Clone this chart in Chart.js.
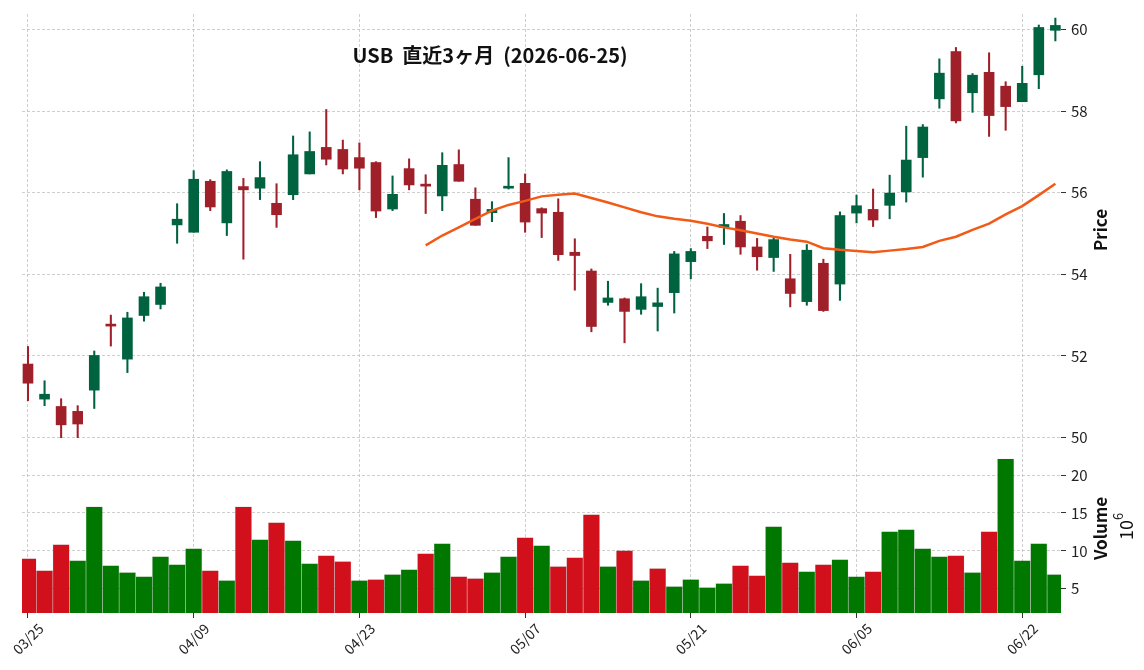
<!DOCTYPE html>
<html>
<head>
<meta charset="utf-8">
<script src="https://cdn.jsdelivr.net/npm/chart.js"></script>
<style>
  html, body { margin: 0; padding: 0; background: #fff; }
  #wrap { position: relative; width: 1144px; height: 670px; }
</style>
</head>
<body>
<div id="wrap"><canvas id="chart" width="1144" height="670"></canvas></div>
<script>
const dates = ['03/25','03/26','03/27','03/30','03/31','04/01','04/02','04/06','04/07','04/08',
  '04/09','04/10','04/13','04/14','04/15','04/16','04/17','04/20','04/21','04/22',
  '04/23','04/24','04/27','04/28','04/29','04/30','05/01','05/04','05/05','05/06',
  '05/07','05/08','05/11','05/12','05/13','05/14','05/15','05/18','05/19','05/20',
  '05/21','05/22','05/26','05/27','05/28','05/29','06/01','06/02','06/03','06/04',
  '06/05','06/08','06/09','06/10','06/11','06/12','06/15','06/16','06/17','06/18',
  '06/22','06/23','06/24'];

const opens = [51.80,50.94,50.76,50.64,51.16,52.75,51.92,52.99,53.26,55.21,
  55.03,56.28,55.26,56.15,56.11,55.74,55.95,56.46,57.11,57.06,
  56.86,56.74,55.60,56.59,56.21,55.92,56.69,55.84,55.51,56.11,
  56.23,55.61,55.52,54.54,54.08,53.31,53.40,53.14,53.21,53.55,
  54.31,54.93,55.15,55.30,54.67,54.41,53.89,53.33,54.27,53.76,
  55.50,55.59,55.69,56.02,56.86,58.30,59.46,58.45,58.95,58.61,
  58.23,58.89,59.98];
const highs = [52.23,51.39,50.95,50.78,52.12,53.00,53.07,53.56,53.78,55.73,
  56.54,56.32,56.56,56.35,56.76,56.22,57.39,57.49,58.04,57.29,
  57.22,56.76,56.41,56.83,56.44,56.98,57.05,56.12,55.78,56.86,
  56.46,55.63,55.85,54.87,54.13,53.83,53.42,53.77,53.66,54.56,
  54.63,55.16,55.49,55.44,54.88,54.89,54.49,54.73,54.37,55.53,
  55.94,56.09,56.43,57.63,57.67,59.28,59.56,58.92,59.43,58.72,
  59.10,60.11,60.28];
const lows = [50.90,50.78,49.98,49.98,50.71,52.24,51.59,52.85,53.15,54.76,
  55.03,55.56,54.95,54.37,55.83,55.15,55.83,56.46,56.68,56.46,
  56.07,55.39,55.56,56.07,55.49,55.56,56.28,55.20,55.29,56.09,
  55.03,54.90,54.34,53.61,52.59,53.24,52.32,53.02,52.61,53.05,
  53.89,54.63,54.73,54.49,54.10,54.07,53.20,53.24,53.09,53.36,
  55.26,55.17,55.36,55.77,56.38,58.07,57.71,57.97,57.38,57.53,
  58.23,58.55,59.72];
const closes = [51.33,51.06,50.31,50.33,52.01,52.73,52.93,53.45,53.69,55.35,
  56.33,55.65,56.52,56.07,56.37,55.46,56.93,57.01,56.82,56.58,
  56.60,55.55,55.96,56.19,56.16,56.67,56.28,55.20,55.59,56.15,
  55.28,55.50,54.48,54.46,52.72,53.42,53.09,53.45,53.30,54.50,
  54.56,54.82,55.22,54.67,54.43,54.85,53.53,54.59,53.11,55.44,
  55.68,55.33,55.99,56.80,57.61,58.93,57.76,58.88,57.89,58.11,
  58.68,60.05,60.10];
// volume in millions
const volumes = [8.99,7.41,10.83,8.73,15.83,8.07,7.15,6.62,9.25,8.20,
  10.31,7.41,6.10,15.83,11.49,13.73,11.36,8.33,9.39,8.60,
  6.10,6.23,6.89,7.54,9.65,10.96,6.62,6.36,7.15,9.25,
  11.75,10.70,7.94,9.12,14.78,7.94,10.04,6.10,7.68,5.31,
  6.23,5.18,5.70,8.07,6.75,13.20,8.46,7.28,8.20,8.86,
  6.62,7.28,12.54,12.81,10.31,9.25,9.39,7.15,12.54,22.15,
  8.73,10.96,6.89];
// 25-day moving average (starts at the 25th bar)
const ma25 = Array(24).fill(null).concat([
  54.71,54.95,55.15,55.36,55.56,55.70,55.80,55.91,
  55.95,55.98,55.87,55.76,55.64,55.52,55.42,55.36,55.31,55.24,55.15,55.08,55.00,54.92,54.85,54.80,
  54.64,54.60,54.57,54.54,54.58,54.62,54.67,54.82,54.92,55.09,55.24,55.47,55.67,55.94,56.22]);

const xTicks = [0, 10, 20, 30, 40, 50, 60];
const priceTicks = [50, 52, 54, 56, 58, 60];
const volumeTicks = [5, 10, 15, 20];
const titleText = 'USB  直近3ヶ月  (2026-06-25)';

const FONT = '"Noto Sans CJK JP", "Noto Sans", sans-serif';
const UP = '#006340', DOWN = '#a0202a';
const VOL_UP = '#007800', VOL_DOWN = '#d2101c';
const GRID = '#c2c2c2';

const idx = dates.map((d, i) => i);
const candleColors = idx.map(i => closes[i] >= opens[i] ? UP : DOWN);
const volColors = idx.map(i => {
  const prev = i === 0 ? opens[0] : closes[i - 1];
  return closes[i] >= prev ? VOL_UP : VOL_DOWN;
});

const gridOpts = {
  color: GRID, lineWidth: 0.8, drawTicks: true, tickLength: 5,
  tickColor: '#333', tickWidth: 1, tickBorderDash: [], offset: false
};
const borderOpts = { display: false, dash: [3, 2] };
const tickFont = { family: FONT, size: 15 };

const labelsPlugin = {
  id: 'labelsPlugin',
  afterDraw(chart) {
    const ctx = chart.ctx;
    const area = chart.chartArea;
    const yp = chart.scales.yPrice, yv = chart.scales.yVol;
    ctx.save();
    ctx.fillStyle = '#111';
    ctx.textAlign = 'center';
    ctx.textBaseline = 'middle';
    ctx.font = 'bold 20px ' + FONT;
    ctx.fillText(titleText, 490, 55);

    // Price
    ctx.save();
    ctx.translate(area.right + 40, (yp.top + yp.bottom) / 2 + 4);
    ctx.rotate(-Math.PI / 2);
    ctx.font = 'bold 17px ' + FONT;
    ctx.fillText('Price', 0, 0);
    ctx.restore();

    // Volume
    ctx.save();
    ctx.translate(area.right + 40, (yv.top + yv.bottom) / 2 + 3);
    ctx.rotate(-Math.PI / 2);
    ctx.font = 'bold 17px ' + FONT;
    ctx.fillText('Volume', 0, 0);
    ctx.restore();

    // 10^6
    ctx.save();
    ctx.translate(area.right + 62, (yv.top + yv.bottom) / 2 + 1);
    ctx.rotate(-Math.PI / 2);
    ctx.font = '18px ' + FONT;
    const w10 = ctx.measureText('10').width;
    ctx.font = '13px ' + FONT;
    const w6 = ctx.measureText('6').width;
    const start = -(w10 + w6) / 2;
    ctx.textAlign = 'left';
    ctx.font = '18px ' + FONT;
    ctx.fillText('10', start, 3);
    ctx.font = '13px ' + FONT;
    ctx.fillText('6', start + w10, -5);
    ctx.restore();

    ctx.restore();
  }
};

new Chart(document.getElementById('chart'), {
  type: 'bar',
  data: {
    datasets: [
      {
        type: 'line', label: 'MA25', order: 0,
        data: idx.map(i => ({ x: i, y: ma25[i] })),
        xAxisID: 'x', yAxisID: 'yPrice',
        borderColor: '#f25a17', borderWidth: 2.5, pointRadius: 0, tension: 0
      },
      {
        label: 'body', order: 1,
        data: idx.map(i => ({ x: i, y: [opens[i], closes[i]] })),
        xAxisID: 'x', yAxisID: 'yPrice',
        backgroundColor: candleColors, barThickness: 10, minBarLength: 2, grouped: false
      },
      {
        label: 'wick', order: 2,
        data: idx.map(i => ({ x: i, y: [lows[i], highs[i]] })),
        xAxisID: 'x', yAxisID: 'yPrice',
        backgroundColor: candleColors, barThickness: 1.4, grouped: false
      },
      {
        label: 'volume', order: 3,
        data: idx.map(i => ({ x: i, y: volumes[i] })),
        xAxisID: 'x', yAxisID: 'yVol',
        backgroundColor: volColors, borderColor: 'rgba(0,0,0,0.12)', borderWidth: 0.6,
        barPercentage: 1, categoryPercentage: 1, grouped: false
      }
    ]
  },
  options: {
    responsive: false,
    animation: false,
    devicePixelRatio: 1,
    layout: { padding: { left: 22, top: 8, right: 0, bottom: 0 } },
    plugins: { legend: { display: false }, tooltip: { enabled: false }, title: { display: false } },
    scales: {
      x: {
        type: 'linear', position: 'bottom', min: -0.36, max: 62.34, offset: false,
        afterBuildTicks: s => { s.ticks = xTicks.map(v => ({ value: v })); },
        afterFit: s => { s.height = 57; },
        ticks: {
          callback: v => dates[v], minRotation: 45, maxRotation: 45, autoSkip: false,
          labelOffset: 13, padding: 2, color: '#222', font: { family: FONT, size: 14 }
        },
        grid: gridOpts, border: borderOpts
      },
      yPrice: {
        type: 'linear', position: 'right', stack: 'panels', stackWeight: 426,
        min: 49.99, max: 60.38, beginAtZero: false,
        afterBuildTicks: s => { s.ticks = priceTicks.map(v => ({ value: v })); },
        afterFit: s => { s.width = 83; },
        ticks: { callback: v => String(v), padding: 5, color: '#222', font: tickFont },
        grid: gridOpts, border: borderOpts
      },
      yVol: {
        type: 'linear', position: 'right', stack: 'panels', stackWeight: 176,
        min: 1.8, max: 24.9, beginAtZero: false,
        afterBuildTicks: s => { s.ticks = volumeTicks.map(v => ({ value: v })); },
        afterFit: s => { s.width = 83; },
        ticks: { callback: v => String(v), padding: 5, color: '#222', font: tickFont },
        grid: gridOpts, border: borderOpts
      }
    }
  },
  plugins: [labelsPlugin]
});
</script>
</body>
</html>
